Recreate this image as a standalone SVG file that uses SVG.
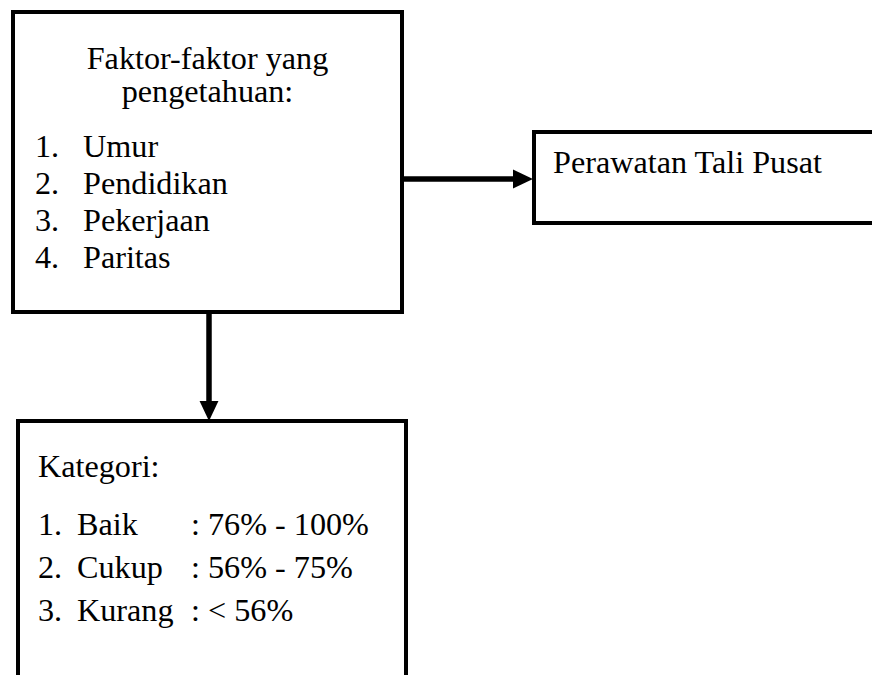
<svg xmlns="http://www.w3.org/2000/svg" width="872" height="675" viewBox="0 0 872 675">
<style>
.box{fill:#fff;stroke:#000;stroke-width:4}
.t{font-family:'Liberation Serif','Times New Roman',Times,serif;font-size:32.2px;fill:#000}
.c{stroke:#000;stroke-width:5.5;fill:none}
</style>
<defs>
<marker id="ah" markerUnits="userSpaceOnUse" markerWidth="20" markerHeight="20" viewBox="0 0 19 18" refX="1" refY="9" orient="auto">
<path d="M0,0 L19,9 L0,18 z" fill="#000"/>
</marker>
</defs>
<rect width="872" height="675" fill="#fff"/>
<g id="connectors">
<line class="c" x1="404" y1="179" x2="514" y2="179" marker-end="url(#ah)"/>
<line class="c" x1="209" y1="314" x2="209" y2="402" marker-end="url(#ah)"/>
</g>
<g id="faktor">
<rect class="box" x="13" y="12" width="389" height="300"/>
<text class="t" x="207.5" y="69" text-anchor="middle">Faktor-faktor yang</text>
<text class="t" x="207.5" y="102" text-anchor="middle">pengetahuan:</text>
<text class="t" x="35" y="157">1.</text><text class="t" x="83" y="157">Umur</text>
<text class="t" x="35" y="194">2.</text><text class="t" x="83" y="194">Pendidikan</text>
<text class="t" x="35" y="231">3.</text><text class="t" x="83" y="231">Pekerjaan</text>
<text class="t" x="35" y="268">4.</text><text class="t" x="83" y="268">Paritas</text>
</g>
<g id="perawatan">
<rect class="box" x="534" y="132" width="400" height="91"/>
<text class="t" x="553" y="173">Perawatan Tali Pusat</text>
</g>
<g id="kategori">
<rect class="box" x="18" y="421" width="388" height="300"/>
<text class="t" x="38" y="477">Kategori:</text>
<text class="t" x="38" y="535">1.</text><text class="t" x="77" y="535">Baik</text><text class="t" x="191" y="535">: 76% - 100%</text>
<text class="t" x="38" y="578">2.</text><text class="t" x="77" y="578">Cukup</text><text class="t" x="191" y="578">: 56% - 75%</text>
<text class="t" x="38" y="621">3.</text><text class="t" x="77" y="621">Kurang</text><text class="t" x="191" y="621">: &lt; 56%</text>
</g>
</svg>
